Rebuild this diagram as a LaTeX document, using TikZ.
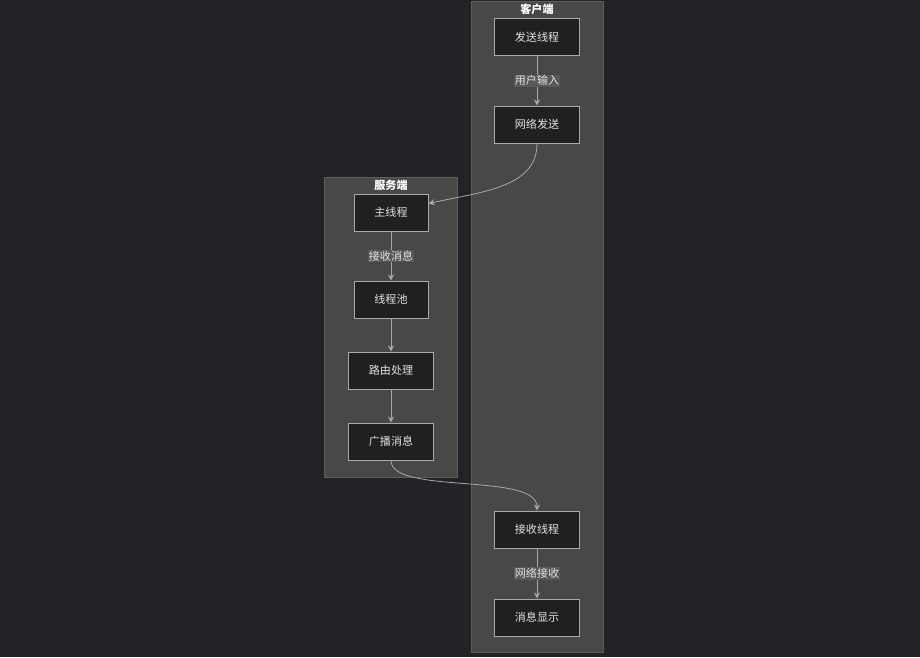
\documentclass[tikz,border=0pt]{standalone}
\usepackage{fontspec}
\newfontfamily\cjk{Noto Sans CJK SC}
\usetikzlibrary{arrows.meta}
\definecolor{bgcol}{HTML}{222327}
\definecolor{grpcol}{HTML}{484947}
\definecolor{grpline}{HTML}{5C5D5B}
\definecolor{boxcol}{HTML}{1F201F}
\definecolor{boxline}{HTML}{A9A9A9}
\definecolor{txtcol}{HTML}{E2E2E2}
\definecolor{lblcol}{HTML}{585858}
\definecolor{edgecol}{HTML}{A8A8A8}
\begin{document}
\begin{tikzpicture}[x=0.75pt,y=-0.75pt,
  font=\cjk\fontsize{8.3}{10}\selectfont,
  grp/.style={fill=grpcol,draw=grpline,line width=0.75pt},
  grptitle/.style={text=white,font=\cjk\bfseries\fontsize{8.3}{10}\selectfont},
  box/.style={fill=boxcol,draw=boxline,line width=0.75pt,text=txtcol,minimum height=27.75pt,inner sep=0pt},
  lbl/.style={fill=lblcol,text=txtcol,inner sep=0.8pt},
  link/.style={draw=edgecol,line width=0.6pt,-{Stealth[length=4.5pt,width=4.5pt]}}]
\useasboundingbox[fill=bgcol] (0,0) rectangle (920,657);
% groups
\draw[grp] (471,1) rectangle (603,652);
\node[grptitle] (client) at (537,9) {客户端};
\draw[grp] (324,177) rectangle (457,477);
\node[grptitle] (server) at (391,185) {服务端};
% client
\node[box,minimum width=63.75pt] (send) at (537,37) {发送线程};
\node[box,minimum width=63.75pt] (netsend) at (537,124.5) {网络发送};
\node[box,minimum width=63.75pt] (recv) at (537,529.5) {接收线程};
\node[box,minimum width=63.75pt] (show) at (537,617.5) {消息显示};
% server
\node[box,minimum width=55.5pt] (main) at (391,212.5) {主线程};
\node[box,minimum width=55.5pt] (pool) at (391,299.5) {线程池};
\node[box,minimum width=63.75pt] (route) at (391,370.5) {路由处理};
\node[box,minimum width=63.75pt] (bcast) at (391,441.5) {广播消息};
% edges
\draw[link] (send) -- (netsend) node[lbl,midway] {用户输入};
\draw[link] (netsend.south) .. controls (537,188) and (480,192) .. ([yshift=6.75pt]main.east);
\draw[link] (main) -- (pool) node[lbl,midway] {接收消息};
\draw[link] (pool) -- (route);
\draw[link] (route) -- (bcast);
\draw[link] (bcast.south) .. controls (391,495) and (537,472) .. (recv.north);
\draw[link] (recv) -- (show) node[lbl,midway] {网络接收};
\end{tikzpicture}
\end{document}
